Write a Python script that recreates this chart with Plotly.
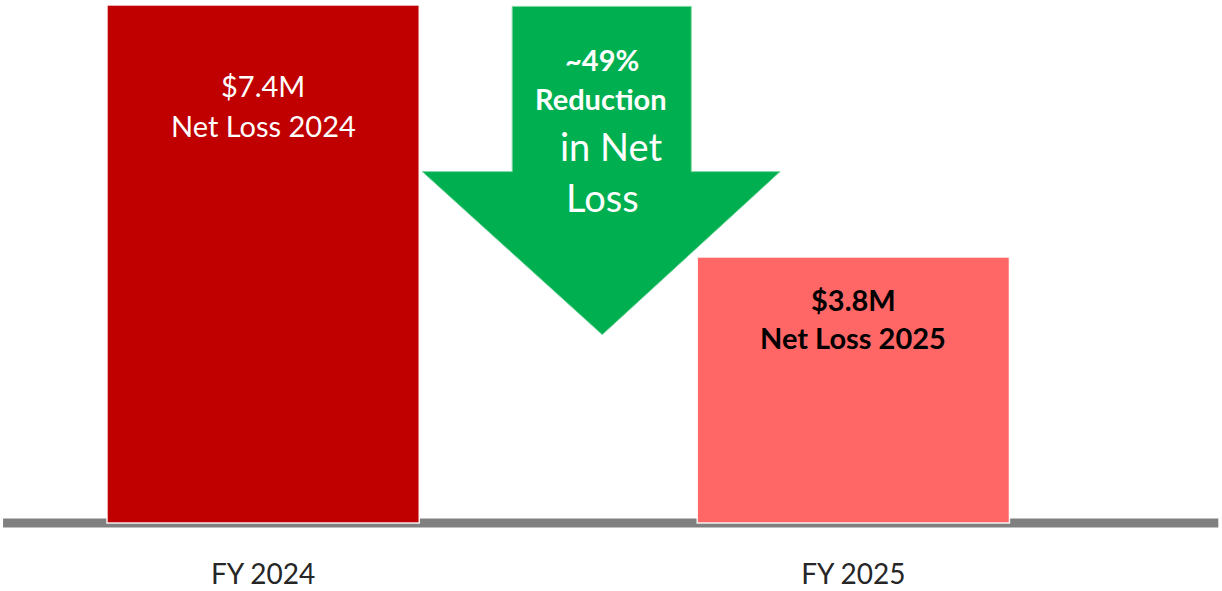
import plotly.graph_objects as go

# ---- data ----
categories = ["FY 2024", "FY 2025"]
net_loss_musd = [7.4, 3.8]
bar_value_labels = ["$7.4M", "$3.8M"]
bar_desc_labels = ["Net Loss 2024", "Net Loss 2025"]
reduction_lines = ["~49%", "Reduction", "in Net", "Loss"]

# ---- styles ----
bar_colors = ["#C00000", "#FF6666"]
label_colors = ["#FFFFFF", "#000000"]
label_bold = [False, True]
arrow_color = "#00B050"
FONT = "Lato"
PX_PER_UNIT = 70.0

fig = go.Figure()
fig.add_trace(go.Bar(
    x=categories,
    y=net_loss_musd,
    width=0.529,
    marker=dict(color=bar_colors, line=dict(color="rgba(255,255,255,0.9)", width=1.5)),
    hoverinfo="skip",
    showlegend=False,
))

# baseline
fig.add_shape(type="line", xref="paper", yref="y", x0=0.0025, x1=0.997, y0=0, y1=0,
              line=dict(color="#808080", width=9), layer="below")

# green down arrow (decoration, data units)
sx0, sx1 = 0.422, 0.7254
hx0, hx1, tipx = 0.2695, 0.876, 0.5746
top_y = net_loss_musd[0] - 0.02
shoulder_y = 5.02
tip_y = 2.69
path = (f"M {sx0},{top_y} L {sx1},{top_y} L {sx1},{shoulder_y} L {hx1},{shoulder_y} "
        f"L {tipx},{tip_y} L {hx0},{shoulder_y} L {sx0},{shoulder_y} Z")
fig.add_shape(type="path", path=path, xref="x", yref="y",
              fillcolor=arrow_color, line=dict(color="#7FD8A5", width=1), layer="above")

# bar labels
offsets = [(80, 120), (42, 80)]
for i, cat in enumerate(categories):
    for j, txt in enumerate([bar_value_labels[i], bar_desc_labels[i]]):
        t = f"<b>{txt}</b>" if label_bold[i] else txt
        fig.add_annotation(x=cat, y=net_loss_musd[i], xref="x", yref="y",
                           text=t, showarrow=False, yanchor="middle",
                           yshift=-offsets[i][j],
                           font=dict(family=FONT, size=29, color=label_colors[i]))

# arrow text (positioned in data units of y)
arrow_text_pos = [(0.5746, 6.62, 29, True), (0.5729, 6.06, 29, True),
                  (0.5898, 5.39, 38, False), (0.5746, 4.66, 38, False)]
for txt, (xv, yv, sz, bold) in zip(reduction_lines, arrow_text_pos):
    fig.add_annotation(x=xv, y=yv, xref="x", yref="y",
                       text=f"<b>{txt}</b>" if bold else txt, showarrow=False,
                       xanchor="center", yanchor="middle",
                       font=dict(family=FONT, size=sz, color="#FFFFFF"))

plot_h = 591 - 60
y_top = 523 / PX_PER_UNIT
y_bot = y_top - plot_h / PX_PER_UNIT

fig.update_layout(
    width=1222, height=591,
    margin=dict(l=0, r=0, t=0, b=60),
    paper_bgcolor="white", plot_bgcolor="white",
    xaxis=dict(range=[-0.4458, 1.6246], showgrid=False, showline=False, zeroline=False,
               ticks="", tickfont=dict(family=FONT, size=28, color="#262626"),
               ticklabelstandoff=24, fixedrange=True),
    yaxis=dict(range=[y_bot, y_top], visible=False, fixedrange=True),
    font=dict(family=FONT),
)

fig.write_html("out.html", config={"displayModeBar": False},
               post_script="document.body.style.margin='0';document.body.style.padding='0';")
